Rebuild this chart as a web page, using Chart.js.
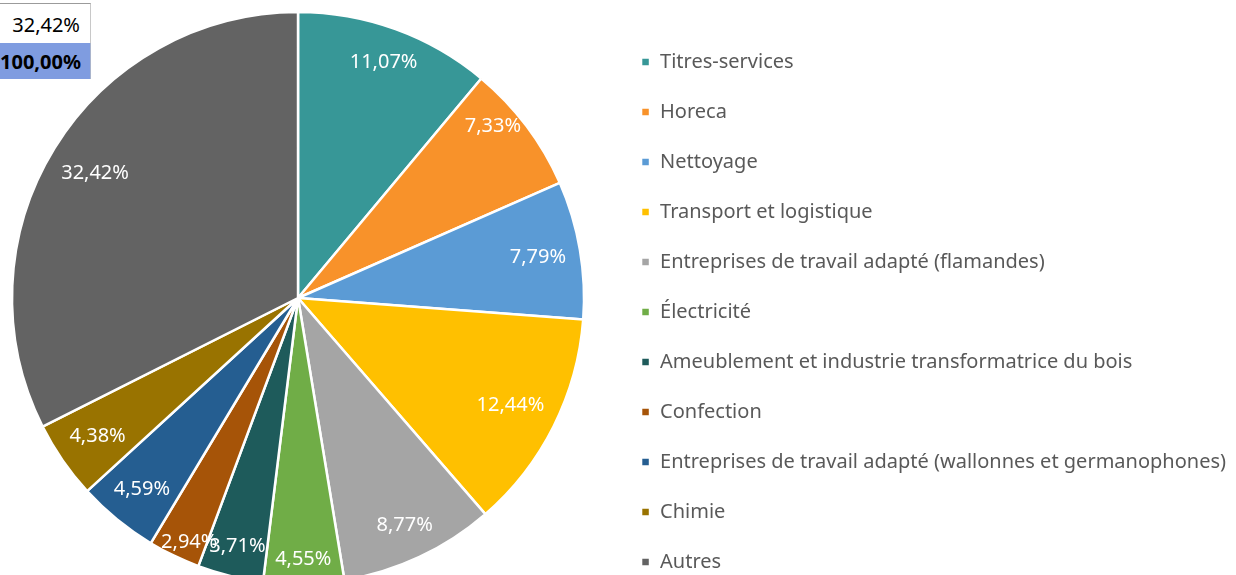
<!DOCTYPE html>
<html lang="fr">
<head>
  <meta charset="UTF-8">
  <title>Répartition par secteur</title>
  <style>
    html, body { margin: 0; padding: 0; background: #fff; overflow: hidden; }
    #wrap { position: relative; width: 1236px; height: 575px; overflow: hidden; }
    /* canvas is a bit bigger than the window: the pie runs off the bottom like in the source */
    canvas { position: absolute; left: -15px; top: -6px; }
    /* leftover spreadsheet cells in the corner */
    .cell {
      position: absolute; left: 0; width: 80px; padding-right: 10px;
      text-align: right; font-family: "Noto Sans", sans-serif; font-size: 20px; color: #000;
      box-sizing: content-box; white-space: nowrap;
    }
    #cellA { top: 3px; height: 39px; line-height: 42px; border-top: 1px solid #9b9b9b; border-right: 1px solid #c8c8c8; background: #fff; }
    #cellB { top: 43px; height: 36px; line-height: 37px; background: #7f9ce0; border-right: 1px solid #a9b4cc; font-weight: bold; }
  </style>
</head>
<body>
  <div id="wrap">
    <canvas id="pie" width="1251" height="650"></canvas>
    <div class="cell" id="cellA">32,42%</div>
    <div class="cell" id="cellB">100,00%</div>
  </div>

  <script src="https://cdn.jsdelivr.net/npm/chart.js@4.4.2/dist/chart.umd.min.js"></script>
  <script>
    // sectors, clockwise from 12 o'clock
    const sectors = [
      'Titres-services',
      'Horeca',
      'Nettoyage',
      'Transport et logistique',
      'Entreprises de travail adapté (flamandes)',
      'Électricité',
      'Ameublement et industrie transformatrice du bois',
      'Confection',
      'Entreprises de travail adapté (wallonnes et germanophones)',
      'Chimie',
      'Autres'
    ];
    // share of each sector, in %
    const shares = [11.07, 7.33, 7.79, 12.44, 8.77, 4.55, 3.71, 2.94, 4.59, 4.38, 32.42];
    const sliceColors = [
      '#379797', '#f8922a', '#5b9bd5', '#ffc000', '#a5a5a5', '#70ad47',
      '#1e5b5b', '#a65408', '#255e91', '#997300', '#636363'
    ];

    const fontFamily = '"Noto Sans", sans-serif';

    const fmt = v => v.toFixed(2).replace('.', ',') + '%';

    // hand nudges (px) for the two labels Excel's best-fit moved
    const labelNudge = {1: [0, -25], 7: [0, 18]};

    // white percentage labels near the outer edge of each slice
    const sliceLabels = {
      id: 'sliceLabels',
      afterDatasetsDraw(chart) {
        const ctx = chart.ctx;
        const meta = chart.getDatasetMeta(0);
        ctx.save();
        ctx.font = '20px ' + fontFamily;
        ctx.fillStyle = '#ffffff';
        ctx.textAlign = 'center';
        ctx.textBaseline = 'middle';
        meta.data.forEach((arc, i) => {
          const p = arc.getProps(['x', 'y', 'startAngle', 'endAngle', 'outerRadius'], true);
          const a = (p.startAngle + p.endAngle) / 2;
          const text = fmt(shares[i]);
          const w = ctx.measureText(text).width;
          const h = 22;
          const r = p.outerRadius - 13 - (w / 2 * Math.abs(Math.cos(a)) + h / 2 * Math.abs(Math.sin(a)));
          const [nx, ny] = labelNudge[i] || [0, 0];
          ctx.fillText(text, p.x + r * Math.cos(a) + nx, p.y + r * Math.sin(a) + ny);
        });
        ctx.restore();
      }
    };

    new Chart(document.getElementById('pie'), {
      type: 'pie',
      data: {
        labels: sectors,
        datasets: [{
          data: shares,
          backgroundColor: sliceColors,
          borderColor: '#ffffff',
          borderWidth: 2.5
        }]
      },
      options: {
        responsive: false,
        devicePixelRatio: 1,
        animation: false,
        radius: 286,
        layout: {
          padding: { left: 0, right: 0, top: 0, bottom: 42 }
        },
        plugins: {
          tooltip: { enabled: false },
          legend: {
            position: 'right',
            align: 'end',
            labels: {
              boxWidth: 9,
              boxHeight: 9,
              padding: 30,
              color: '#595959',
              font: { family: fontFamily, size: 20 }
            }
          }
        }
      },
      plugins: [sliceLabels]
    });
  </script>
</body>
</html>
